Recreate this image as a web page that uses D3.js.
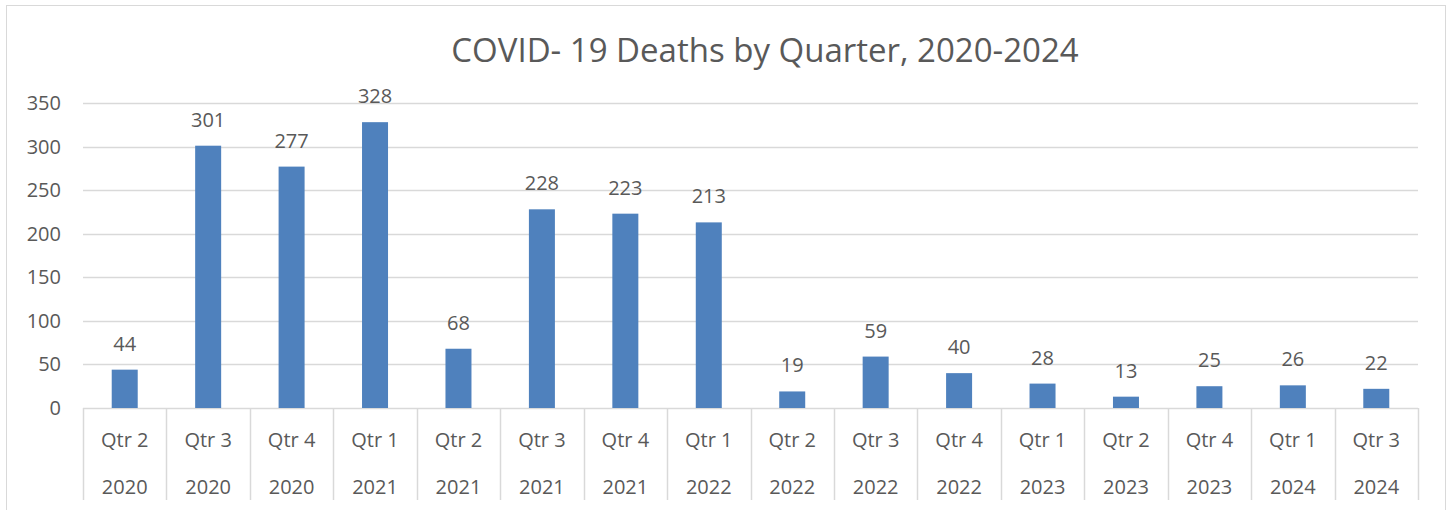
<!DOCTYPE html>
<html>
<head>
<meta charset="utf-8">
<script src="https://cdn.jsdelivr.net/npm/d3@7"></script>
<style>
  body { margin: 0; background: #fff; }
  text { font-family: "Open Sans", "Noto Sans", sans-serif; fill: #595959; }
</style>
</head>
<body>
<div id="chart"></div>
<script>
const quarters = ["Qtr 2", "Qtr 3", "Qtr 4", "Qtr 1", "Qtr 2", "Qtr 3", "Qtr 4", "Qtr 1",
    "Qtr 2", "Qtr 3", "Qtr 4", "Qtr 1", "Qtr 2", "Qtr 4", "Qtr 1", "Qtr 3"];
const years = ["2020", "2020", "2020", "2021", "2021", "2021", "2021", "2022",
    "2022", "2022", "2022", "2023", "2023", "2023", "2024", "2024"];
const deaths = [44, 301, 277, 328, 68, 228, 223, 213, 19, 59, 40, 28, 13, 25, 26, 22];
const yTicks = [0, 50, 100, 150, 200, 250, 300, 350];
const title = "COVID- 19 Deaths by Quarter, 2020-2024";

const width = 1450;
const height = 510;
const plot = { left: 83, right: 1418, top: 103, bottom: 408 };

const svg = d3.select("#chart")
    .append("svg")
    .attr("width", width)
    .attr("height", height);

// chart frame
svg.append("rect")
    .attr("x", 6.5).attr("y", 5.5)
    .attr("width", 1439).attr("height", 510)
    .attr("fill", "none")
    .attr("stroke", "#d9d9d9");

const idx = d3.range(deaths.length);

const xScale = d3.scaleBand()
    .domain(idx)
    .range([plot.left, plot.right]);

const yScale = d3.scaleLinear()
    .domain([0, 350])
    .range([plot.bottom, plot.top]);

// gridlines
svg.append("g")
    .selectAll("line")
    .data(yTicks)
    .enter()
    .append("line")
    .attr("x1", plot.left)
    .attr("x2", plot.right)
    .attr("y1", d => Math.round(yScale(d)) + 0.5)
    .attr("y2", d => Math.round(yScale(d)) + 0.5)
    .attr("stroke", "#d9d9d9")
    .attr("stroke-width", 1.5);

// y axis labels
svg.append("g")
    .selectAll("text")
    .data(yTicks)
    .enter()
    .append("text")
    .attr("x", 61)
    .attr("y", d => yScale(d))
    .attr("dy", "0.35em")
    .attr("text-anchor", "end")
    .style("font-size", "20px")
    .text(d => d);

// bars
const barW = 26;
svg.append("g")
    .selectAll("rect")
    .data(deaths)
    .enter()
    .append("rect")
    .attr("x", (d, i) => xScale(i) + xScale.bandwidth() / 2 - barW / 2)
    .attr("y", d => yScale(d))
    .attr("width", barW)
    .attr("height", d => plot.bottom - yScale(d))
    .attr("fill", "#4f81bd");

// data labels
svg.append("g")
    .selectAll("text")
    .data(deaths)
    .enter()
    .append("text")
    .attr("x", (d, i) => xScale(i) + xScale.bandwidth() / 2)
    .attr("y", d => yScale(d) - 26)
    .attr("dy", "0.35em")
    .attr("text-anchor", "middle")
    .style("font-size", "20px")
    .text(d => d);

// category axis: tick separators
svg.append("g")
    .selectAll("line")
    .data(d3.range(deaths.length + 1))
    .enter()
    .append("line")
    .attr("x1", i => Math.round(i < deaths.length ? xScale(i) : plot.right) + 0.5)
    .attr("x2", i => Math.round(i < deaths.length ? xScale(i) : plot.right) + 0.5)
    .attr("y1", plot.bottom)
    .attr("y2", 500)
    .attr("stroke", "#d9d9d9")
    .attr("stroke-width", 1.5);

svg.append("g")
    .selectAll("text")
    .data(quarters)
    .enter()
    .append("text")
    .attr("x", (d, i) => xScale(i) + xScale.bandwidth() / 2)
    .attr("y", 440)
    .attr("dy", "0.35em")
    .attr("text-anchor", "middle")
    .style("font-size", "20px")
    .text(d => d);

svg.append("g")
    .selectAll("text")
    .data(years)
    .enter()
    .append("text")
    .attr("x", (d, i) => xScale(i) + xScale.bandwidth() / 2)
    .attr("y", 487)
    .attr("dy", "0.35em")
    .attr("text-anchor", "middle")
    .style("font-size", "20px")
    .text(d => d);

// title
svg.append("text")
    .attr("x", 765)
    .attr("y", 50)
    .attr("dy", "0.35em")
    .attr("text-anchor", "middle")
    .style("font-size", "33px")
    .text(title);
</script>
</body>
</html>
